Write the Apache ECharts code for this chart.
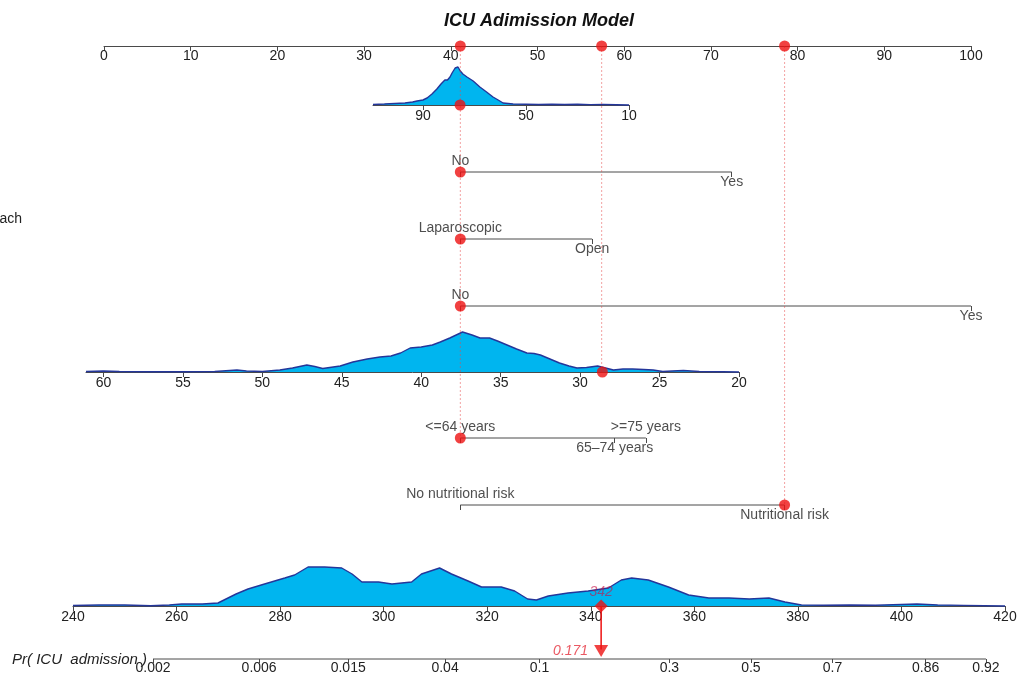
<!DOCTYPE html>
<html><head><meta charset="utf-8">
<script src="https://cdn.jsdelivr.net/npm/echarts@6/dist/echarts.min.js"></script>
<style>html,body{margin:0;padding:0;background:#fff}#c{width:1019px;height:675px}</style>
</head><body><div id="c"></div>
<script>
// ================= DATA =================
const chartTitle = 'ICU Adimission Model';
const probAxisTitle = 'Pr( ICU  admission )';
const approachTitle = 'Approach';

// Points axis
const pointsRange = [0, 100];

// Continuous variable A (reversed scale, 10..~109)
const varARange = [10, 109.4];
const varATicks = [10, 50, 90];
const varADensity = [[109.4,0.5],[105,1],[100.9,1.5],[97,2],[94,3],[92.3,4],[90,5],[88.4,7],[86.5,11],[84.6,16],[83,21],[81.5,25],[80.5,25],[79.5,28],[78.7,32],[77.5,37],[76.4,38],[75.5,34],[74.5,31],[72.9,28],[70.5,24],[67.9,18],[65.3,13],[62.8,8],[60.8,5],[58.9,2],[55,1],[50,0.8],[45,0.5],[40,0.8],[35,0.5],[30,0.8],[25,0.4],[20,0.6],[15,0.3],[10,0]];
const varAPatient = 75.6;

// Binary variable (row 3)
const var3Cats = ['No', 'Yes'];
const var3Points = [41.1, 72.4];
const var3Patient = 'No';

// Approach
const approachCats = ['Laparoscopic', 'Open'];
const approachPoints = [41.1, 56.3];
const approachPatient = 'Laparoscopic';

// Binary variable (row 5)
const var5Cats = ['No', 'Yes'];
const var5Points = [41.1, 100];
const var5Patient = 'No';

// Continuous variable B (reversed scale, 20..~61)
const varBRange = [20, 61.1];
const varBTicks = [20, 25, 30, 35, 40, 45, 50, 55, 60];
const varBDensity = [[61.1,0.5],[60,1],[59,0.5],[57,0.3],[55,0.3],[53,0.5],[52.05,1.5],[51.6,2],[51,1],[50,0.5],[48.9,2],[48.1,4],[47.2,7],[46.7,5.5],[46.2,3.5],[45.1,6],[44.3,10],[43.4,13],[42.6,15],[41.9,16],[41.3,19],[40.7,24],[40,25],[39.3,27],[38.8,30],[38.2,34],[37.4,40],[36.8,37],[36.3,34],[35.7,34],[35.2,31],[34.6,27],[34,23],[33.35,19],[32.9,18.5],[32.5,17],[31.9,13],[31.3,9],[30.7,6],[30.2,4],[29.6,4.5],[28.9,6],[28.4,4],[27.9,2],[27.3,3],[26.7,3],[26,2.5],[25.4,2],[24.8,0.5],[24.2,1],[23.5,1.5],[22.5,0.5],[21,0.3],[20,0]];
const varBPatient = 28.6;

// Age groups
const ageCats = ['<=64 years', '65\u201374 years', '>=75 years'];
const agePoints = [41.1, 58.9, 62.5];
const agePatient = '<=64 years';

// Nutritional risk
const nutCats = ['No nutritional risk', 'Nutritional risk'];
const nutPoints = [41.1, 78.5];
const nutPatient = 'Nutritional risk';

// Points contributed by the patient per row (rows 1..7)
const patientPoints = [41.1, 41.1, 41.1, 41.1, 57.4, 41.1, 78.5];

// Total points
const totalRange = [240, 420];
const totalDensity = [[240,0.5],[245,1],[250,1],[255,0.3],[258.6,1],[261,2],[265,2],[268,3],[271.5,12],[273.8,17],[277,22],[280.9,28],[282.8,31],[285.4,39],[288.6,39],[291.9,38],[293.9,32],[295.8,24],[299,24],[301.6,22],[303.5,23],[305.4,24],[307.3,32],[310.8,38],[313.1,32],[316.3,25],[318.9,19],[322.7,19],[325.3,15],[327.8,7],[329.5,6],[331.8,10],[335.6,13],[339.5,15],[343.4,18],[345.9,26],[347.9,28],[351.1,26],[355,19],[358.9,11],[362.8,8],[366.7,8],[370.6,7],[374.4,8],[377.5,4],[380.7,1],[385,0.8],[390,1],[395,0.7],[400,1.5],[403,2],[407,1],[412,0.6],[420,0]];
const totalScore = 342;

// Probability axis
const probTicks = [0.002, 0.006, 0.015, 0.04, 0.1, 0.3, 0.5, 0.7, 0.86, 0.92];
const probLabels = ['0.002', '0.006', '0.015', '0.04', '0.1', '0.3', '0.5', '0.7', '0.86', '0.92'];
const lpIntercept = -19.956;
const lpSlope = 0.0538;
const predProb = 0.171;

// ================= CHART =================
const FONT = 'Liberation Sans, Arial, Helvetica, sans-serif';
const LINE = '#4a4a4a';
const TXT = '#222';
const RED = '#ee1111';
const FILL = '#00b5ef';
const NAVY = '#24369a';

const toPts = p => (Math.log(p / (1 - p)) - lpIntercept) / lpSlope;
const probTickPts = probTicks.map(toPts);

const grids = [];
const xAxes = [];
const yAxes = [];
const series = [];

function addGrid(g, x, y) {
  g.outerBoundsMode = 'none';
  g.containLabel = false;
  grids.push(g);
  const gi = grids.length - 1;
  xAxes.push(Object.assign({ gridIndex: gi, type: 'value', splitLine: { show: false },
    axisLine: { show: true, lineStyle: { color: LINE, width: 1 } },
    axisTick: { show: true, length: 5, lineStyle: { color: LINE } },
    axisLabel: { fontSize: 14, color: TXT, fontFamily: FONT, margin: 4 } }, x));
  yAxes.push(Object.assign({ gridIndex: gi, type: 'value', show: false, splitLine: { show: false } }, y));
  return gi;
}

// Grid 0: points axis + guide overlay (y = row index)
const gP = addGrid({ left: 104, top: 46, width: 867, height: 459 },
  { position: 'top', min: pointsRange[0], max: pointsRange[1], interval: 10,
    axisTick: { show: true, inside: true, length: 5, lineStyle: { color: LINE } },
    axisLabel: { inside: true, margin: 3, fontSize: 14, color: TXT, fontFamily: FONT } },
  { min: 0, max: 7, inverse: true });

function densityGrid(box, range, ticks, density, patient) {
  const gi = addGrid(box,
    { min: range[0], max: range[1], inverse: true,
      axisTick: { show: true, length: 5, lineStyle: { color: LINE }, customValues: ticks },
      axisLabel: { fontSize: 14, color: TXT, fontFamily: FONT, margin: 4, customValues: ticks } },
    { min: 0, max: 40 });
  series.push({ type: 'line', xAxisIndex: gi, yAxisIndex: gi, data: density, showSymbol: false,
    clip: false, silent: true, lineStyle: { color: NAVY, width: 1.4 }, areaStyle: { color: FILL, opacity: 1 }, z: 2 });
  series.push({ type: 'scatter', xAxisIndex: gi, yAxisIndex: gi, data: [[patient, 0]], symbolSize: 11,
    itemStyle: { color: RED }, clip: false, silent: true, z: 10 });
  return gi;
}

function catGrid(top, cats, pts, patient) {
  const gi = addGrid({ left: 104, top: top, width: 867, height: 20 },
    { min: pointsRange[0], max: pointsRange[1], axisLine: { show: false },
      axisTick: { show: true, length: 5, lineStyle: { color: LINE }, customValues: pts },
      axisLabel: { show: false } },
    { min: 0, max: 1 });
  series.push({ type: 'line', xAxisIndex: gi, yAxisIndex: gi,
    data: [[Math.min(...pts), 0], [Math.max(...pts), 0]], showSymbol: false, clip: false, silent: true,
    lineStyle: { color: LINE, width: 1 }, z: 3 });
  series.push({ type: 'scatter', xAxisIndex: gi, yAxisIndex: gi, clip: false, silent: true,
    symbolSize: 1, itemStyle: { color: 'rgba(0,0,0,0)' },
    data: cats.map((c, i) => ({ name: c, value: [pts[i], 0],
      label: { show: true, position: i % 2 ? 'bottom' : 'top', distance: 3, formatter: '{b}',
        fontSize: 14, color: TXT, fontFamily: FONT } })), z: 4 });
  series.push({ type: 'scatter', xAxisIndex: gi, yAxisIndex: gi, clip: false, silent: true,
    data: [[pts[cats.indexOf(patient)], 0]], symbolSize: 11, itemStyle: { color: RED }, z: 10 });
  return gi;
}

densityGrid({ left: 373, top: 65, width: 256, height: 40 }, varARange, varATicks, varADensity, varAPatient);
catGrid(152, var3Cats, var3Points, var3Patient);
catGrid(219, approachCats, approachPoints, approachPatient);
catGrid(286, var5Cats, var5Points, var5Patient);
densityGrid({ left: 86, top: 332, width: 653, height: 40 }, varBRange, varBTicks, varBDensity, varBPatient);
catGrid(418, ageCats, agePoints, agePatient);
catGrid(485, nutCats, nutPoints, nutPatient);

// Guides + dots on the points axis
const distinct = [...new Set(patientPoints)];
distinct.forEach(v => {
  const lastRow = patientPoints.lastIndexOf(v) + 1;
  series.push({ type: 'line', xAxisIndex: gP, yAxisIndex: gP, data: [[v, 0], [v, lastRow]],
    showSymbol: false, clip: false, silent: true,
    lineStyle: { color: 'rgba(232,70,70,0.5)', width: 1, type: [2, 2] }, z: 6 });
});
series.push({ type: 'scatter', xAxisIndex: gP, yAxisIndex: gP, data: distinct.map(v => [v, 0]),
  symbolSize: 11, itemStyle: { color: RED }, clip: false, silent: true, z: 10 });

// Total points
const gT = addGrid({ left: 73, top: 566, width: 932, height: 40 },
  { min: totalRange[0], max: totalRange[1], interval: 20,
    axisLabel: { fontSize: 14, color: TXT, fontFamily: FONT, margin: 4 } },
  { min: 0, max: 40 });
series.push({ type: 'line', xAxisIndex: gT, yAxisIndex: gT, data: totalDensity, showSymbol: false,
  clip: false, silent: true, lineStyle: { color: NAVY, width: 1.4 }, areaStyle: { color: FILL, opacity: 1 }, z: 2 });
series.push({ type: 'scatter', xAxisIndex: gT, yAxisIndex: gT, data: [[totalScore, 0]], symbol: 'diamond',
  symbolSize: [13, 13], itemStyle: { color: RED }, clip: false, silent: true, z: 10,
  label: { show: true, position: 'top', distance: 0, formatter: String(totalScore), fontSize: 14,
    fontStyle: 'italic', color: 'rgba(200,20,70,0.8)', fontFamily: FONT } });

// Probability axis
const gPr = addGrid({ left: 73, top: 606, width: 932, height: 53 },
  { min: totalRange[0], max: totalRange[1], axisLine: { show: false },
    axisTick: { show: true, length: 4, lineStyle: { color: LINE }, customValues: probTickPts },
    axisLabel: { fontSize: 14, color: TXT, fontFamily: FONT, margin: 2, customValues: probTickPts,
      formatter: v => { let b = 0; probTickPts.forEach((t, i) => { if (Math.abs(t - v) < Math.abs(probTickPts[b] - v)) b = i; }); return probLabels[b]; } } },
  { min: 0, max: 1 });
series.push({ type: 'line', xAxisIndex: gPr, yAxisIndex: gPr,
  data: [[probTickPts[0], 0], [probTickPts[probTickPts.length - 1], 0]], showSymbol: false, clip: false,
  silent: true, lineStyle: { color: LINE, width: 1 }, z: 3 });
series.push({ type: 'line', xAxisIndex: gPr, yAxisIndex: gPr, data: [[totalScore, 1], [totalScore, 0.18]],
  showSymbol: false, clip: false, silent: true, lineStyle: { color: RED, width: 1.5 }, z: 8 });
series.push({ type: 'scatter', xAxisIndex: gPr, yAxisIndex: gPr, data: [[totalScore, 0.15]],
  symbol: 'triangle', symbolRotate: 180, symbolSize: [14, 12], itemStyle: { color: RED },
  clip: false, silent: true, z: 9,
  label: { show: true, position: 'left', distance: 6, formatter: String(predProb), fontSize: 14,
    fontStyle: 'italic', color: '#e5303c', fontFamily: FONT } });

const option = {
  animation: false,
  backgroundColor: '#fff',
  textStyle: { fontFamily: FONT },
  grid: grids, xAxis: xAxes, yAxis: yAxes, series: series,
  graphic: [
    { type: 'text', x: 539, y: 21, silent: true,
      style: { text: chartTitle, fontSize: 18, fontWeight: 'bold', fontStyle: 'italic', fontFamily: FONT,
        fill: '#111', align: 'center', verticalAlign: 'middle' } },
    { type: 'text', x: 12, y: 660, silent: true,
      style: { text: probAxisTitle, fontSize: 15, fontStyle: 'italic', fontFamily: FONT,
        fill: TXT, align: 'left', verticalAlign: 'middle' } },
    { type: 'text', x: 22, y: 219, silent: true,
      style: { text: approachTitle, fontSize: 14, fontFamily: FONT,
        fill: TXT, align: 'right', verticalAlign: 'middle' } }
  ]
};
const chart = echarts.init(document.getElementById('c'), null, { renderer: 'canvas' });
chart.setOption(option);
</script>
</body></html>
